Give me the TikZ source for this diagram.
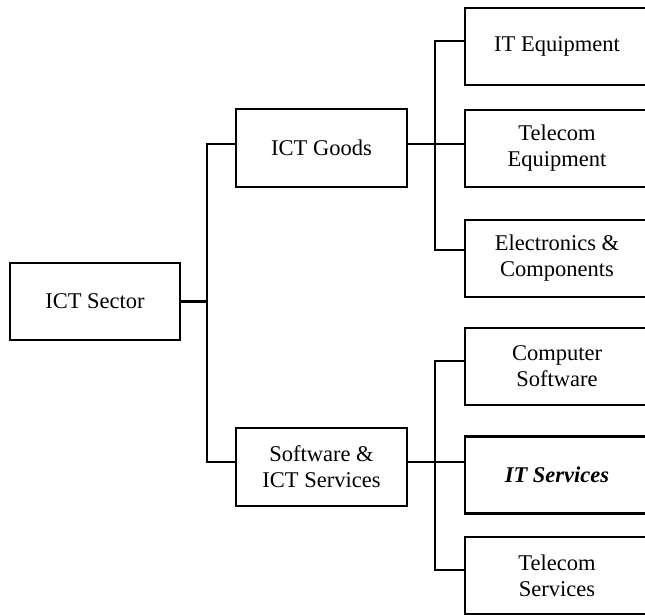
\documentclass[tikz,border=0pt]{standalone}
\usepackage{fontspec}
\setmainfont{Liberation Serif}
\begin{document}
\begin{tikzpicture}[x=1pt,y=-1pt,
  box/.style={draw, line width=2.2pt, fill=white, align=center, inner sep=0pt,
              font=\fontsize{22.5}{26}\selectfont},
  rootbox/.style={box, minimum width=170pt, minimum height=77pt},
  midbox/.style={box, minimum width=171pt, minimum height=78pt},
  leafbox/.style={box, minimum width=184pt, minimum height=77pt},
  link/.style={line width=2.6pt}]
\useasboundingbox (0,0) rectangle (645,615);
\clip (0,0) rectangle (645,615);

% boxes
\node[rootbox] (sector) at (95,301.5) {ICT Sector};
\node[midbox] (goods) at (321.5,148) {ICT Goods};
\node[midbox] (soft) at (321.5,467) {Software \&\\ICT Services};

\node[leafbox] (ite) at (557,46.5) {IT Equipment};
\node[leafbox] (tel) at (557,148.5) {Telecom\\Equipment};
\node[leafbox] (ele) at (557,258.5) {Electronics \&\\Components};

\node[leafbox] (cs) at (557,366.5) {Computer\\Software};
\node[leafbox] (its) at (557,475) {\textbf{\textit{IT Services}}};
\node[leafbox] (tels) at (557,575.5) {Telecom\\Services};

% junction points of the trunks
\coordinate (j1) at (207,301.5);
\coordinate (j2) at (435,144);
\coordinate (j3) at (435,462);

% sector to its two groups
\draw[link] (sector.east) -- (j1);
\draw[link] ([yshift=4pt]goods.west) -| (j1) |- ([yshift=5pt]soft.west);

% goods branch
\draw[link] ([yshift=4pt]goods.east) -- ([yshift=4pt]goods.east -| tel.west);
\draw[link] ([yshift=5.5pt]ite.west) -| (j2) |- ([yshift=8.5pt]ele.west);

% services branch
\draw[link] ([yshift=5pt]soft.east) -- ([yshift=5pt]soft.east -| its.west);
\draw[link] ([yshift=5.5pt]cs.west) -| (j3) |- ([yshift=5.5pt]tels.west);
\end{tikzpicture}
\end{document}
